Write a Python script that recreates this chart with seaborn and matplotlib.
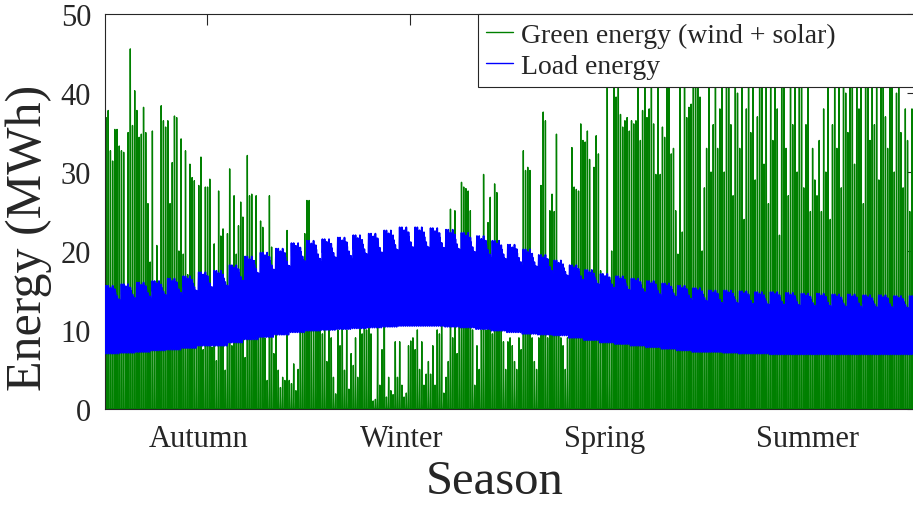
import numpy as np
import pandas as pd
import matplotlib
matplotlib.use('Agg')
import matplotlib.pyplot as plt
import matplotlib.transforms as mtransforms
import seaborn as sns

# ---- data (MWh) ----
seasons = ['Autumn', 'Winter', 'Spring', 'Summer']
y_ticks = [0, 10, 20, 30, 40, 50]

# daily peak of green generation, left to right (~46 days per block)
green_peak_autumn = [
    36.9, 37.8, 32.7, 31.4, 35.4, 35.4, 33.3, 32.7, 32.5, 9.0,
    35.0, 45.6, 35.9, 40.3, 37.8, 34.4, 34.8, 38.2, 35.0, 26.0,
    18.6, 35.2, 12.0, 20.7, 10.0, 38.4, 36.5, 35.7, 36.5, 26.0,
    31.2, 37.1, 36.9, 20.0, 34.2, 19.6, 32.7, 17.0, 31.0, 29.3,
    28.9, 8.5, 28.3, 31.9, 7.5, 28.1,
    28.1, 29.1, 7.8, 20.9, 6.1, 27.6, 21.9, 22.8, 4.9, 22.2,
    30.4, 8.0, 27.0, 19.6, 23.2, 26.2, 24.3, 6.5, 32.1, 27.0,
    27.2, 16.7, 27.0, 12.9, 23.8, 23.0, 9.0, 3.6, 27.0, 20.5,
    7.0, 9.5, 4.9, 2.7, 4.0, 3.6, 22.6, 3.6, 3.2, 5.7,
    2.3, 5.0, 9.9, 9.9, 22.2, 26.4,
]
green_peak_winter = [
    26.4, 11.0, 10.5, 12.9, 10.5, 10.0, 9.5, 11.0, 6.0, 10.0,
    9.0, 4.0, 1.9, 10.0, 8.0, 10.5, 4.9, 10.0, 2.5, 7.0,
    5.5, 9.0, 4.0, 10.5, 9.5, 19.0, 10.0, 11.0, 9.5, 1.0,
    1.2, 10.5, 3.0, 7.5, 21.0, 1.5, 4.0, 2.3, 1.8, 8.5,
    4.0, 8.5, 3.0, 1.5, 2.0, 8.0,
    8.6, 9.0, 7.5, 10.0, 5.0, 8.5, 3.0, 4.4, 6.0, 4.4,
    8.0, 3.0, 10.0, 9.5, 10.5, 2.0, 4.0, 6.0, 25.3, 9.0,
    25.1, 7.0, 10.5, 28.7, 28.1, 27.9, 27.6, 25.1, 10.0, 3.0,
    8.0, 5.0, 10.0, 29.7, 10.0, 23.6, 26.8, 9.5, 28.5, 27.4,
    21.0, 10.0, 8.5, 5.0, 8.5, 9.0,
]
green_peak_spring = [
    8.0, 6.0, 5.0, 9.0, 7.5, 32.7, 30.2, 30.6, 30.2, 9.0,
    6.0, 5.0, 9.0, 28.3, 37.6, 36.5, 9.0, 25.1, 27.2, 25.0,
    34.8, 16.7, 9.0, 8.0, 5.0, 9.0, 10.0, 33.1, 28.1, 27.8,
    27.6, 36.1, 34.0, 33.8, 35.2, 31.6, 16.7, 30.6, 34.6, 32.3,
    17.5, 10.0, 12.0, 44.0, 9.0, 20.0,
    45, 39.5, 45, 37.3, 35.7, 36.5, 36.9, 35.2, 36.5, 36.1,
    36.5, 45, 34.0, 37.8, 45, 36.9, 38.0, 41.0, 36.1, 29.7,
    45, 29.7, 35.7, 34.4, 45, 45, 32.3, 33.0, 25.1, 19.6,
    45, 22.4, 45, 36.9, 38.2, 38.6, 45, 45, 45, 39.5,
    20.0, 28.0, 33.0, 45, 30.0, 36.0,
]
green_peak_summer = [
    45, 33, 38, 45, 30, 45, 45, 36, 27, 45,
    40, 33, 45, 24, 38, 45, 35, 45, 29, 37,
    45, 45, 31, 42, 26, 45, 34, 45, 38, 22,
    45, 45, 33, 27, 45, 36, 45, 30, 41, 45,
    28, 36, 45, 25, 33, 29,
    27, 34, 25, 38, 30, 45, 24, 36, 45, 33,
    45, 28, 45, 40, 35, 45, 45, 31, 45, 38,
    45, 26, 45, 45, 34, 45, 36, 45, 29, 45,
    45, 37, 33, 45, 45, 30, 40, 45, 35, 28,
    38, 34, 25, 38, 33, 36,
]

# weekly daytime peak and night trough of the load
load_peak_weekly = [
    15.6, 15.8, 16.0, 16.2, 16.5, 16.8, 17.3, 17.5, 18.2, 19.3,
    19.8, 20.3, 21.0, 21.3, 21.5, 21.7, 22.0, 22.2, 22.6, 23.0,
    23.0, 22.9, 22.7, 22.3, 21.9, 21.3, 20.8, 20.2, 19.5, 18.8,
    18.2, 17.6, 17.1, 16.8, 16.5, 16.2, 15.9, 15.6, 15.3, 15.0,
    15.0, 14.9, 14.8, 14.8, 14.7, 14.6, 14.6, 14.5, 14.5, 14.4,
    14.4, 14.3, 14.3,
]
load_trough_weekly = [
    7.0, 7.1, 7.2, 7.4, 7.5, 7.7, 8.0, 8.0, 8.4, 8.8,
    9.1, 9.4, 9.7, 9.9, 10.0, 10.1, 10.2, 10.3, 10.4, 10.5,
    10.5, 10.5, 10.4, 10.3, 10.1, 9.9, 9.7, 9.5, 9.4, 9.3,
    9.0, 8.7, 8.4, 8.2, 8.0, 7.8, 7.6, 7.4, 7.2, 7.2,
    7.1, 7.0, 7.0, 6.9, 6.9, 6.9, 6.9, 6.9, 6.9, 6.9,
    6.9, 6.9, 6.9,
]
weekday_amplitude = [1.0, 1.0, 0.97, 1.0, 0.95, 0.85, 0.8]

# hourly profiles within one day (fraction of the daily swing)
load_hour_profile = [0.05, 0.0, 0.0, 0.0, 0.05, 0.2, 0.5, 0.75, 0.85, 0.9, 0.95, 1.0,
                     0.95, 0.9, 0.85, 0.85, 0.9, 0.95, 0.9, 0.75, 0.55, 0.35, 0.2, 0.1]
green_hour_profile = [0, 0, 0, 0, 0, 0, 0, 0, 0.15, 0.45, 0.8, 1.0,
                      0.85, 0.5, 0.2, 0, 0, 0, 0, 0, 0, 0, 0, 0]

# ---- build hourly series ----
green_daily = np.array(green_peak_autumn + green_peak_winter
                       + green_peak_spring + green_peak_summer)
n_days = len(green_daily)
day_idx = np.arange(n_days)
week_idx = day_idx // 7
peak_d = np.array(load_peak_weekly)[week_idx]
trough_d = np.array(load_trough_weekly)[week_idx]
amp_d = (peak_d - trough_d) * np.array(weekday_amplitude)[day_idx % 7]

load = (trough_d[:, None] + amp_d[:, None] * np.array(load_hour_profile)[None, :]).ravel()
green = (green_daily[:, None] * np.array(green_hour_profile)[None, :]).ravel()
hours = np.arange(n_days * 24)

df = pd.DataFrame({'hour': hours, 'green': green, 'load': load})

# ---- plot ----
sns.set_style('white')
plt.rcParams['font.family'] = ['Liberation Serif', 'DejaVu Serif']

fig = plt.figure(figsize=(9.13, 5.06), dpi=100)
ax = fig.add_axes([0.115, 0.19, 0.89, 0.78])

sns.lineplot(data=df, x='hour', y='green', color='#008000', lw=1.0,
             label='Green energy (wind + solar)', ax=ax, zorder=2)
sns.lineplot(data=df, x='hour', y='load', color='#0000ff', lw=1.25,
             label='Load energy', ax=ax, zorder=3)

total = n_days * 24
ax.set_xlim(0, total)
ax.set_ylim(0, 50)
ax.set_xticks([total * (k + 0.5) / 4 for k in range(4)])
ax.set_xticklabels(seasons)
ax.set_yticks(y_ticks)

ax.tick_params(axis='both', direction='in', length=8, width=0.8,
               colors='#262626', labelsize=22, top=True, right=True)
ax.tick_params(axis='y', pad=10)
ax.tick_params(axis='x', pad=11)
for s in ax.spines.values():
    s.set_color('#262626')
    s.set_linewidth(0.8)

# season names sit a little left of their ticks in the original
shift = mtransforms.ScaledTranslation(-0.08, 0, fig.dpi_scale_trans)
for lbl in ax.get_xticklabels():
    lbl.set_transform(lbl.get_transform() + shift)

ax.set_xlabel('Season', fontsize=35, color='#262626', labelpad=4)
ax.set_ylabel('Energy (MWh)', fontsize=36, color='#262626', labelpad=6)
ax.xaxis.label.set_x(0.48)
ax.yaxis.label.set_y(0.435)

leg = ax.legend(loc='upper left', bbox_to_anchor=(0.459, 0.0, 0.6, 1.0),
                mode='expand', borderaxespad=0, fontsize=20, frameon=True,
                fancybox=False, framealpha=1, edgecolor='#262626',
                handlelength=0.95, handletextpad=0.3, labelspacing=0.2,
                borderpad=0.3)
leg.get_frame().set_linewidth(0.8)
leg.set_zorder(5)
for line in leg.get_lines():
    line.set_linewidth(1.0)

plt.savefig('out.png', dpi=100)
